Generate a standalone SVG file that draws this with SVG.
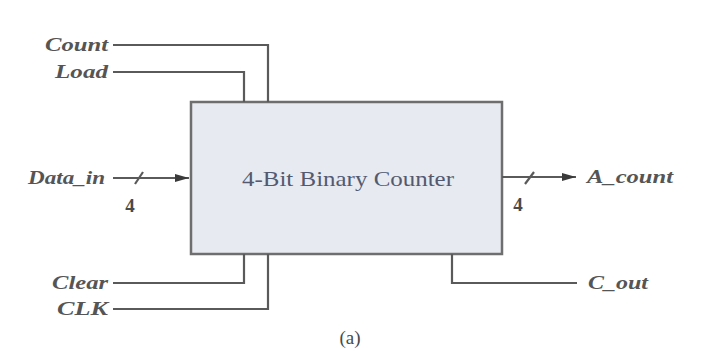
<svg xmlns="http://www.w3.org/2000/svg" width="710" height="361" viewBox="0 0 710 361">
<defs>
<style>
.lbl{font-family:"Liberation Serif","Times New Roman",serif;font-style:italic;font-size:19px;fill:#555;font-weight:bold}
.num{font-family:"Liberation Serif","Times New Roman",serif;font-size:19px;fill:#4a4a4a;font-weight:bold}
.wire{fill:none;stroke:#5a5a5a;stroke-width:2.2}
.title{font-family:"Liberation Serif","Times New Roman",serif;font-size:21px;fill:#535a70}
</style>
<marker id="arr" viewBox="0 0 14 8" refX="14" refY="4" markerWidth="14" markerHeight="8" markerUnits="userSpaceOnUse" orient="auto">
<path d="M0,0 L14,4 L0,8 Z" fill="#3a3a3a"/>
</marker>
</defs>
<rect width="710" height="361" fill="#ffffff"/>
<g id="counter">
<rect x="191" y="102" width="311" height="152" fill="#e7eaf0" stroke="#6e6e6e" stroke-width="2.5"/>
<text class="title" x="348" y="186" text-anchor="middle" textLength="212" lengthAdjust="spacingAndGlyphs">4-Bit Binary Counter</text>
</g>
<g id="connectors">
<path class="wire" d="M113,45 H268 V102"/>
<path class="wire" d="M113,72 H244 V102"/>
<path class="wire" d="M113,178 H189" marker-end="url(#arr)"/>
<path class="wire" d="M135,184 L143,172"/>
<path class="wire" d="M113,283 H244 V254"/>
<path class="wire" d="M113,309 H268 V254"/>
<path class="wire" d="M502,177 H576" marker-end="url(#arr)"/>
<path class="wire" d="M525,184 L534,172"/>
<path class="wire" d="M452,254 V283 H577"/>
</g>
<g id="labels">
<text class="lbl" x="108" y="51" text-anchor="end" textLength="63" lengthAdjust="spacingAndGlyphs">Count</text>
<text class="lbl" x="108" y="78" text-anchor="end" textLength="53" lengthAdjust="spacingAndGlyphs">Load</text>
<text class="lbl" x="105" y="184" text-anchor="end" textLength="77" lengthAdjust="spacingAndGlyphs">Data_in</text>
<text class="num" x="130" y="212" text-anchor="middle">4</text>
<text class="lbl" x="108" y="289" text-anchor="end" textLength="56" lengthAdjust="spacingAndGlyphs">Clear</text>
<text class="lbl" x="108" y="315" text-anchor="end" textLength="51" lengthAdjust="spacingAndGlyphs">CLK</text>
<text class="lbl" x="587" y="183" textLength="86" lengthAdjust="spacingAndGlyphs">A_count</text>
<text class="num" x="518" y="211" text-anchor="middle">4</text>
<text class="lbl" x="588" y="289" textLength="60" lengthAdjust="spacingAndGlyphs">C_out</text>
<text class="num" x="350" y="344" text-anchor="middle" style="font-weight:normal">(a)</text>
</g>
</svg>
